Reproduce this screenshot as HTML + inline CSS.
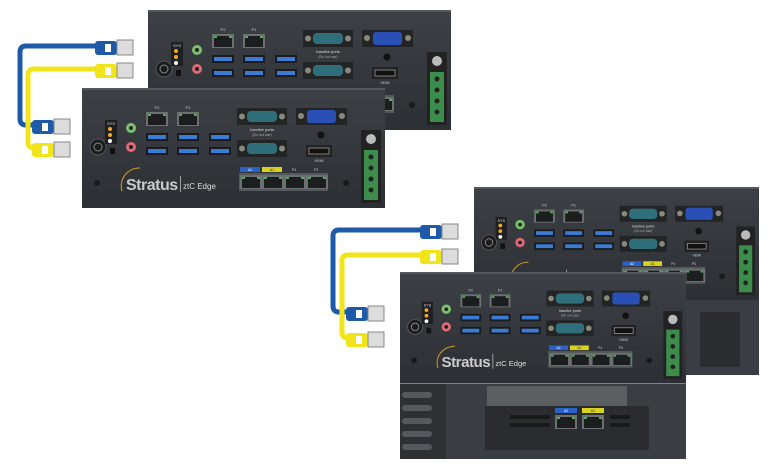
<!DOCTYPE html>
<html><head><meta charset="utf-8"><style>
html,body{margin:0;padding:0;background:#fff;width:774px;height:472px;overflow:hidden}
svg{display:block}
text{font-family:"Liberation Sans",sans-serif}
</style></head><body>
<svg width="774" height="472" viewBox="0 0 774 472" xmlns="http://www.w3.org/2000/svg">
<defs>
<linearGradient id="bx" x1="0" y1="0" x2="0" y2="1"><stop offset="0" stop-color="#3d4044"/><stop offset="1" stop-color="#2c2f33"/></linearGradient>
<g id="rj"><rect x="0" y="0" width="22" height="14" fill="#6d7073"/><rect x="2" y="2" width="18" height="11" fill="#1c1d1f"/><rect x="2" y="2" width="3" height="2" fill="#4caf50"/><rect x="17" y="2" width="3" height="2" fill="#4caf50"/></g>
<g id="usb"><rect x="0" y="0" width="22" height="8" fill="#1a1b1d"/><rect x="2" y="2" width="18" height="4" fill="#3a7bd5"/></g>
<g id="ser"><rect x="0" y="0" width="50" height="17" fill="#222426"/><rect x="10" y="3" width="30" height="11" rx="4" fill="#2f6f7a"/><circle cx="5" cy="8.5" r="3" fill="#8a8a7a"/><circle cx="45" cy="8.5" r="3" fill="#8a8a7a"/></g>
<g id="panel">
<rect x="0" y="0" width="303" height="120" fill="url(#bx)"/>
<rect x="0" y="0" width="303" height="2" fill="#55585c"/>
<circle cx="16" cy="59" r="8" fill="#1b1c1e" stroke="#555" stroke-width="1"/><circle cx="16" cy="59" r="4" fill="none" stroke="#888" stroke-width="1"/>
<rect x="23" y="32" width="12" height="24" fill="#1e1f21"/>
<text x="29" y="37" font-size="4" fill="#ddd" text-anchor="middle">SYS</text>
<circle cx="28" cy="41" r="2" fill="#f5a623"/><circle cx="28" cy="47" r="2" fill="#f5a623"/><circle cx="28" cy="53" r="2" fill="#fff"/>
<rect x="28" y="60" width="5" height="6" fill="#111"/>
<circle cx="49" cy="40" r="5" fill="#7ac36a"/><circle cx="49" cy="40" r="2" fill="#222"/>
<circle cx="49" cy="59" r="5" fill="#e06a78"/><circle cx="49" cy="59" r="2" fill="#222"/>
<text x="75" y="21" font-size="4" fill="#ccc" text-anchor="middle">P2</text><text x="106" y="21" font-size="4" fill="#ccc" text-anchor="middle">P1</text>
<use href="#rj" x="64" y="24"/><use href="#rj" x="95" y="24"/>
<use href="#usb" x="64" y="45"/><use href="#usb" x="64" y="59"/><use href="#usb" x="95" y="45"/><use href="#usb" x="95" y="59"/>
<use href="#usb" x="127" y="45"/><use href="#usb" x="127" y="59"/>
<use href="#ser" x="155" y="20"/><use href="#ser" x="155" y="52"/>
<text x="180" y="43" font-size="4" fill="#ddd" text-anchor="middle">Inactive ports</text><text x="180" y="48" font-size="3.5" fill="#aaa" text-anchor="middle">(Do not use)</text>
<rect x="214" y="20" width="51" height="17" fill="#222426"/><rect x="225" y="22" width="29" height="13" rx="3" fill="#2a4fb5"/><circle cx="219" cy="28" r="3" fill="#8a8a7a"/><circle cx="260" cy="28" r="3" fill="#8a8a7a"/>
<circle cx="239" cy="47" r="3.5" fill="#111"/>
<rect x="224" y="57" width="26" height="12" fill="#222"/><rect x="227" y="60" width="20" height="6" fill="#111" stroke="#999" stroke-width="0.8"/>
<text x="237" y="74" font-size="3.5" fill="#ccc" text-anchor="middle">HDMI</text>
<rect x="158" y="79" width="20" height="5" fill="#2b62c9"/><rect x="180" y="79" width="20" height="5" fill="#d8d21e"/>
<text x="168" y="83" font-size="3.5" fill="#fff" text-anchor="middle">A2</text><text x="190" y="83" font-size="3.5" fill="#333" text-anchor="middle">A1</text>
<text x="212" y="83" font-size="3.5" fill="#ccc" text-anchor="middle">P4</text><text x="234" y="83" font-size="3.5" fill="#ccc" text-anchor="middle">P3</text>
<rect x="157" y="85" width="89" height="18" fill="#55585b"/>
<use href="#rj" x="158" y="87"/><use href="#rj" x="180" y="87"/><use href="#rj" x="202" y="87"/><use href="#rj" x="224" y="87"/>
<circle cx="15" cy="95" r="3" fill="#1a1a1a"/><circle cx="264" cy="95" r="3" fill="#1a1a1a"/>
<path d="M40 103 A18 18 0 0 1 58 80" fill="none" stroke="#b8912e" stroke-width="1.3"/>
<text x="44" y="102" font-size="16" font-weight="bold" fill="#c9cacb" letter-spacing="-0.5">Stratus</text>
<rect x="98" y="88" width="0.8" height="16" fill="#bbb"/>
<text x="101" y="101" font-size="8" fill="#ddd">ztC Edge</text>
<rect x="279" y="42" width="20" height="73" fill="#222"/>
<circle cx="289" cy="51" r="5" fill="#bbb"/>
<rect x="282" y="62" width="14" height="50" fill="#3c8c4c"/>
<circle cx="289" cy="69" r="2.5" fill="#222"/><circle cx="289" cy="80" r="2.5" fill="#222"/><circle cx="289" cy="91" r="2.5" fill="#222"/><circle cx="289" cy="102" r="2.5" fill="#222"/>
</g>
</defs>

<use href="#panel" x="148" y="10"/>
<use href="#panel" x="82" y="88"/>

<rect x="474" y="187" width="285" height="188" fill="#2f3236"/>
<rect x="686" y="300" width="73" height="75" fill="#3a3d41"/>
<rect x="700" y="312" width="40" height="55" fill="#2a2c2f"/>
<use href="#panel" transform="translate(474,187) scale(0.94)"/>
<use href="#panel" transform="translate(400,272) scale(0.944,0.93)"/>
<rect x="400" y="384" width="286" height="75" fill="#3a3d41"/>
<rect x="400" y="384" width="46" height="75" fill="#2e3034"/>
<g fill="#55585c"><rect x="402" y="392" width="30" height="6" rx="3"/><rect x="402" y="405" width="30" height="6" rx="3"/><rect x="402" y="418" width="30" height="6" rx="3"/><rect x="402" y="431" width="30" height="6" rx="3"/><rect x="402" y="444" width="30" height="6" rx="3"/></g>
<rect x="487" y="386" width="140" height="20" fill="#5c5f62"/>
<rect x="485" y="406" width="164" height="44" fill="#2a2c2f"/>
<rect x="555" y="408" width="22" height="5" fill="#2b62c9"/><rect x="582" y="408" width="22" height="5" fill="#d8d21e"/>
<text x="566" y="412" font-size="3.5" fill="#fff" text-anchor="middle">A2</text><text x="593" y="412" font-size="3.5" fill="#333" text-anchor="middle">A1</text>
<use href="#rj" x="555" y="415"/><use href="#rj" x="582" y="415"/>
<g fill="#1a1a1a"><rect x="510" y="415" width="40" height="4"/><rect x="510" y="423" width="40" height="4"/><rect x="610" y="415" width="20" height="4"/><rect x="610" y="423" width="20" height="4"/></g>

<g fill="none" stroke-width="5" stroke-linejoin="round">
<path d="M97 46 H26 Q20 46 20 52 V119 Q20 125 26 125 H36" stroke="#1e5aa8"/>
<path d="M97 69 H34 Q28 69 28 75 V142 Q28 148 34 148 H36" stroke="#f1e51a"/>
<path d="M422 230 H339 Q333 230 333 236 V306 Q333 312 339 312 H348" stroke="#1e5aa8"/>
<path d="M422 255 H348 Q342 255 342 261 V332 Q342 338 348 338 H350" stroke="#f1e51a"/>
</g>
<g>
<g transform="translate(95,38)"><rect x="0" y="3" width="22" height="14" rx="3" fill="#1e5aa8"/><rect x="10" y="6" width="6" height="8" fill="#fff"/><rect x="22" y="2" width="16" height="15" fill="#dcdcdc" stroke="#888"/></g>
<g transform="translate(95,61)"><rect x="0" y="3" width="22" height="14" rx="3" fill="#f1e51a"/><rect x="10" y="6" width="6" height="8" fill="#fff"/><rect x="22" y="2" width="16" height="15" fill="#dcdcdc" stroke="#888"/></g>
<g transform="translate(32,117)"><rect x="0" y="3" width="22" height="14" rx="3" fill="#1e5aa8"/><rect x="10" y="6" width="6" height="8" fill="#fff"/><rect x="22" y="2" width="16" height="15" fill="#dcdcdc" stroke="#888"/></g>
<g transform="translate(32,140)"><rect x="0" y="3" width="22" height="14" rx="3" fill="#f1e51a"/><rect x="10" y="6" width="6" height="8" fill="#fff"/><rect x="22" y="2" width="16" height="15" fill="#dcdcdc" stroke="#888"/></g>
<g transform="translate(420,222)"><rect x="0" y="3" width="22" height="14" rx="3" fill="#1e5aa8"/><rect x="10" y="6" width="6" height="8" fill="#fff"/><rect x="22" y="2" width="16" height="15" fill="#dcdcdc" stroke="#888"/></g>
<g transform="translate(420,247)"><rect x="0" y="3" width="22" height="14" rx="3" fill="#f1e51a"/><rect x="10" y="6" width="6" height="8" fill="#fff"/><rect x="22" y="2" width="16" height="15" fill="#dcdcdc" stroke="#888"/></g>
<g transform="translate(346,304)"><rect x="0" y="3" width="22" height="14" rx="3" fill="#1e5aa8"/><rect x="10" y="6" width="6" height="8" fill="#fff"/><rect x="22" y="2" width="16" height="15" fill="#dcdcdc" stroke="#888"/></g>
<g transform="translate(346,330)"><rect x="0" y="3" width="22" height="14" rx="3" fill="#f1e51a"/><rect x="10" y="6" width="6" height="8" fill="#fff"/><rect x="22" y="2" width="16" height="15" fill="#dcdcdc" stroke="#888"/></g>
</g>
</svg>
</body></html>
